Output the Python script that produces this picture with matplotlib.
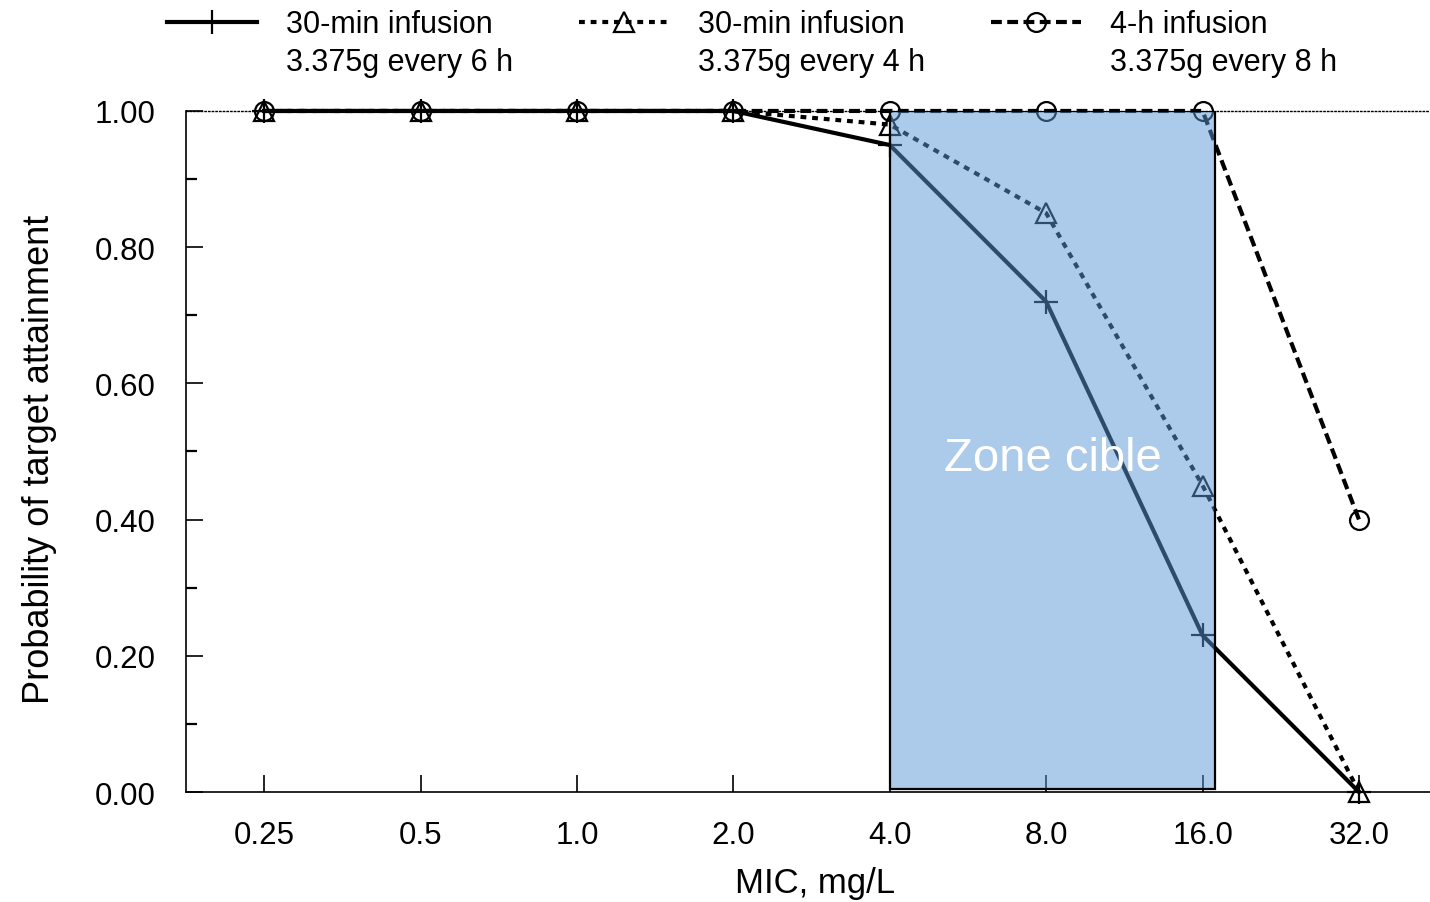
import matplotlib
matplotlib.use("Agg")
import matplotlib.pyplot as plt
from matplotlib.patches import Rectangle
from matplotlib.ticker import MultipleLocator, FormatStrFormatter

plt.rcParams['font.family'] = ['Liberation Sans', 'DejaVu Sans']

# MIC categories (mg/L) and probability of target attainment per regimen
mic_labels = ["0.25", "0.5", "1.0", "2.0", "4.0", "8.0", "16.0", "32.0"]
q6h_30min = [1.00, 1.00, 1.00, 1.00, 0.95, 0.72, 0.23, 0.00]
q4h_30min = [1.00, 1.00, 1.00, 1.00, 0.98, 0.85, 0.45, 0.00]
q8h_4h = [1.00, 1.00, 1.00, 1.00, 1.00, 1.00, 1.00, 0.40]

series_names = ["30-min infusion", "30-min infusion", "4-h infusion"]
series_doses = ["3.375g every 6 h", "3.375g every 4 h", "3.375g every 8 h"]

# target zone spans MIC 4.0 to just past 16.0
zone_start, zone_end = 4.0, 6.08
zone_label = "Zone cible"

fig = plt.figure(figsize=(14.3, 9.03), dpi=100)
ax = fig.add_axes([0.130, 0.1218, 0.870, 0.7542])

x = list(range(len(mic_labels)))
lw = 3.0
ms = 17

ax.plot(x, q6h_30min, color='black', lw=lw, linestyle='-', marker='+',
        ms=ms, mew=1.6, mfc='none', mec='black', clip_on=False, zorder=3,
        label=series_names[0])
ax.plot(x, q4h_30min, color='black', lw=lw, linestyle=(0, (1.4, 1.4)),
        marker='^', ms=ms * 0.85, mew=1.6, mfc='none', mec='black',
        clip_on=False, zorder=3, label=series_names[1])
ax.plot(x, q8h_4h, color='black', lw=lw, linestyle=(0, (2.6, 1.3)),
        marker='o', ms=ms * 0.8, mew=1.6, mfc='none', mec='black',
        clip_on=False, zorder=3, label=series_names[2])

zone = Rectangle((zone_start, 0.004), zone_end - zone_start, 1.0 - 0.004,
                 facecolor=(0.357, 0.592, 0.835, 0.5), edgecolor='black',
                 lw=1.6, zorder=4)
ax.add_patch(zone)
ax.text((zone_start + zone_end) / 2, 0.49, zone_label, color='white',
        fontsize=34, ha='center', va='center', zorder=5)

ax.set_xlim(-0.5, 7.454)
ax.set_ylim(0, 1.0)

ax.set_xticks(x)
ax.set_xticklabels(mic_labels)
ax.yaxis.set_major_locator(MultipleLocator(0.2))
ax.yaxis.set_minor_locator(MultipleLocator(0.1))
ax.yaxis.set_major_formatter(FormatStrFormatter('%.2f'))

ax.tick_params(axis='both', which='major', direction='in', length=12,
               width=1.2, labelsize=22.5, color='black')
ax.tick_params(axis='y', which='major', pad=22)
ax.tick_params(axis='x', which='major', pad=20)
ax.tick_params(axis='y', which='minor', direction='in', length=8, width=1.6)

ax.spines['right'].set_visible(False)
ax.spines['top'].set_linestyle(':')
ax.spines['top'].set_linewidth(1.0)
for s in ('left', 'bottom'):
    ax.spines[s].set_linewidth(1.2)

ax.set_xlabel("MIC, mg/L", fontsize=25)
ax.xaxis.set_label_coords(0.5056, -0.108)
ax.set_ylabel("Probability of target attainment", fontsize=26)
ax.yaxis.set_label_coords(-0.104, 0.49)

leg = fig.legend(loc='upper left', bbox_to_anchor=(152 / 1430, 1.0 + 5 / 903),
                 ncol=3, frameon=False, fontsize=22, handlelength=2.95,
                 handletextpad=0.95, columnspacing=2.81, borderpad=0)

# dose line under each legend entry
fig.canvas.draw()
renderer = fig.canvas.get_renderer()
for txt, dose in zip(leg.get_texts(), series_doses):
    bb = txt.get_window_extent(renderer)
    fig.text(bb.x0 / fig.bbox.width, (bb.y0 - 38) / fig.bbox.height, dose,
             fontsize=22, ha='left', va='bottom')

fig.savefig("out.png", dpi=100)
